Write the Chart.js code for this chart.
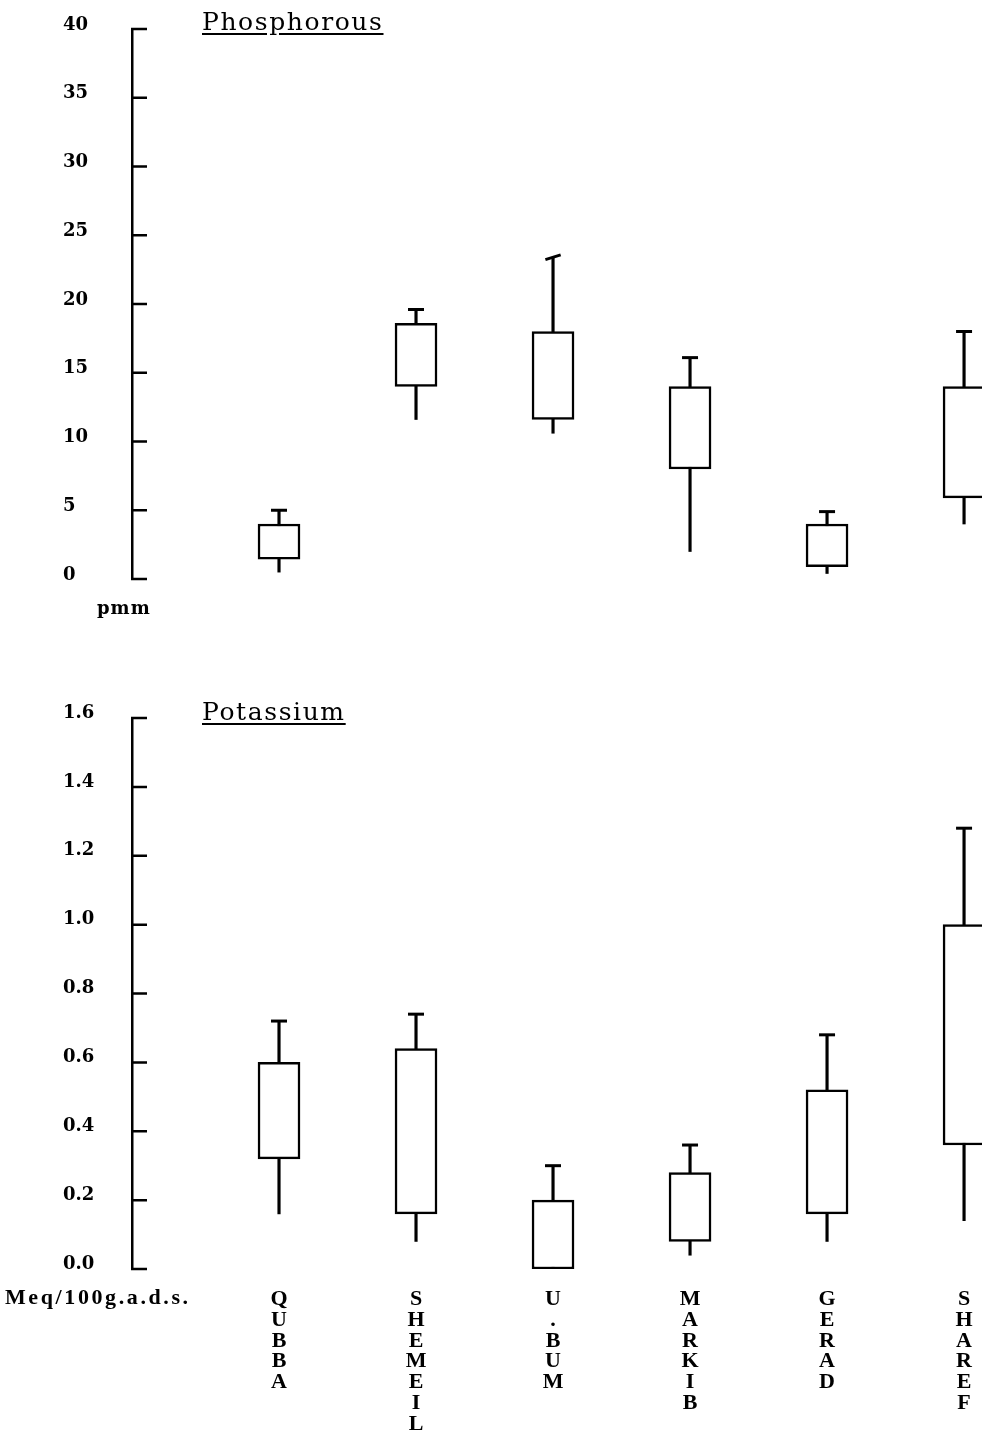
<!DOCTYPE html>
<html><head><meta charset="utf-8">
<script src="https://cdn.jsdelivr.net/npm/chart.js@4.4.0/dist/chart.umd.min.js"></script>
<style>
html,body{margin:0;padding:0;background:#fff;}
body{width:982px;height:1430px;position:relative;overflow:hidden;}
.wrap{position:absolute;left:0;width:982px;}
canvas{display:block;}
.title{position:absolute;font-family:"DejaVu Serif";font-size:25px;line-height:25px;text-decoration:underline;text-underline-offset:3px;letter-spacing:1.6px;color:#000;white-space:nowrap;}
.unit{position:absolute;font-weight:bold;color:#000;white-space:nowrap;}
</style></head><body>
<div class="wrap" style="top:0;height:640px;"><canvas id="c1" width="982" height="640"></canvas></div>
<div class="wrap" style="top:640px;height:790px;"><canvas id="c2" width="982" height="790"></canvas></div>
<div class="title" style="left:202px;top:9px;">Phosphorous</div>
<div class="title" style="left:202px;top:699px;">Potassium</div>
<div class="unit" style="left:97px;top:599px;font-family:'DejaVu Serif';font-size:18px;line-height:18px;letter-spacing:1px;">pmm</div>
<div class="unit" style="left:5px;top:1286px;font-family:'Liberation Serif';font-size:22px;line-height:22px;letter-spacing:2.6px;">Meq/100g.a.d.s.</div>
<script>
// ---- data ----
const categories = ['QUBBA', 'SHEMEIL', 'U.BUM', 'MARKIB', 'GERAD', 'SHAREF'];

// Phosphorous (pmm)
const pBoxLow  = [1.45, 14.0, 11.6, 8.0, 0.9, 5.9];
const pBoxHigh = [4.0, 18.6, 18.0, 14.0, 4.0, 14.0];
const pMin     = [0.5, 11.6, 10.6, 2.0, 0.4, 4.0];
const pMax     = [5.0, 19.6, 23.4, 16.1, 4.9, 18.0];
const pTickLabels = ['0', '5', '10', '15', '20', '25', '30', '35', '40'];

// Potassium (Meq/100g.a.d.s.)
const kBoxLow  = [0.32, 0.16, 0.0, 0.08, 0.16, 0.36];
const kBoxHigh = [0.60, 0.64, 0.20, 0.28, 0.52, 1.00];
const kMin     = [0.16, 0.08, 0.0, 0.04, 0.08, 0.14];
const kMax     = [0.72, 0.74, 0.30, 0.36, 0.68, 1.28];
const kTickLabels = ['0.0', '0.2', '0.4', '0.6', '0.8', '1.0', '1.2', '1.4', '1.6'];

// ---- drawing ----
const inwardTicks = {
  id: 'inwardTicks',
  afterDraw(chart) {
    const s = chart.scales.y, ctx = chart.ctx;
    ctx.save();
    ctx.strokeStyle = '#000';
    ctx.lineWidth = 2.5;
    ctx.beginPath();
    s.ticks.forEach(t => {
      const y = s.getPixelForValue(t.value);
      ctx.moveTo(s.right - 1, y);
      ctx.lineTo(s.right + 15, y);
    });
    ctx.stroke();
    ctx.restore();
  }
};

function makeConfig(o) {
  const idx = categories.map((c, i) => i + 1);
  return {
    type: 'bar',
    data: {
      datasets: [
        { type: 'bar', data: idx.map((x, i) => ({ x, y: [o.wMin[i], o.wMax[i]] })),
          backgroundColor: '#000', borderWidth: 0, barThickness: 2.5, grouped: false, order: 3 },
        { type: 'bar', data: idx.map((x, i) => ({ x, y: [o.boxLow[i], o.boxHigh[i]] })),
          backgroundColor: '#fff', borderColor: '#000', borderWidth: 2.5, borderSkipped: false,
          barThickness: 42, grouped: false, order: 2 },
        { type: 'scatter', data: idx.map((x, i) => ({ x, y: o.wMax[i] })),
          pointStyle: 'line', pointRadius: 8, pointBorderColor: '#000', borderColor: '#000',
          pointBorderWidth: 3, pointRotation: o.capRotation, order: 1 }
      ]
    },
    options: {
      responsive: false, animation: false, events: [],
      plugins: { legend: { display: false }, tooltip: { enabled: false } },
      layout: { autoPadding: false, padding: { left: 63, right: 0, top: o.padTop, bottom: o.padBottom } },
      scales: {
        x: {
          type: 'linear', min: -0.073, max: 6.131, offset: false, display: o.showX,
          grid: { display: false }, border: { display: false },
          afterBuildTicks: s => { s.ticks = idx.map(v => ({ value: v })); },
          afterFit: s => {
            if (o.xHeight) s.height = o.xHeight;
            s.paddingLeft = 0; s.paddingRight = 0;
          },
          ticks: {
            autoSkip: false, maxRotation: 0, padding: 12, color: '#000',
            font: { family: 'Liberation Serif', weight: 'bold', size: 22, lineHeight: 0.945 },
            callback: v => categories[Math.round(v) - 1].split('')
          }
        },
        y: {
          min: 0, max: o.yMax,
          grid: { display: false },
          border: { display: true, color: '#000', width: 2.5 },
          afterFit: s => { s.width = 69; },
          afterBuildTicks: s => { s.ticks = o.tickLabels.map(t => ({ value: parseFloat(t) })); },
          ticks: {
            crossAlign: 'far', labelOffset: o.labelOffset, color: '#000', autoSkip: false,
            font: { family: 'DejaVu Serif', weight: 'bold', size: 18 },
            callback: (v, i) => o.tickLabels[i]
          }
        }
      }
    },
    plugins: [inwardTicks]
  };
}

new Chart(document.getElementById('c1'), makeConfig({
  boxLow: pBoxLow, boxHigh: pBoxHigh, wMin: pMin, wMax: pMax, yMax: 40,
  tickLabels: pTickLabels, showX: false, padTop: 29, padBottom: 61, labelOffset: -4,
  capRotation: ctx => (ctx.dataIndex === 2 ? -17 : 0)
}));

new Chart(document.getElementById('c2'), makeConfig({
  boxLow: kBoxLow, boxHigh: kBoxHigh, wMin: kMin, wMax: kMax, yMax: 1.6,
  tickLabels: kTickLabels, showX: true, xHeight: 161, padTop: 78, padBottom: 0, labelOffset: -5,
  capRotation: 0
}));
</script>
</body></html>
